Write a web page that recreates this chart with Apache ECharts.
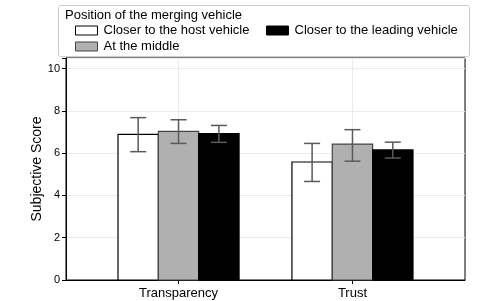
<!DOCTYPE html>
<html><head><meta charset="utf-8">
<script src="https://cdn.jsdelivr.net/npm/echarts@6/dist/echarts.min.js"></script>
<style>html,body{margin:0;padding:0;background:#fff}#c{width:498px;height:301px}</style>
</head><body><div id="c"></div>
<script>
const categories = ['Transparency', 'Trust'];
const seriesNames = ['Closer to the host vehicle', 'At the middle', 'Closer to the leading vehicle'];
const hostMean = [6.89, 5.58];
const middleMean = [7.03, 6.43];
const leadingMean = [6.93, 6.15];
const hostLow = [6.07, 4.66];
const hostHigh = [7.68, 6.46];
const middleLow = [6.46, 5.62];
const middleHigh = [7.58, 7.11];
const leadingLow = [6.51, 5.77];
const leadingHigh = [7.31, 6.52];
const yTicks = [0, 2, 4, 6, 8, 10];

const means = [hostMean, middleMean, leadingMean];
const lows = [hostLow, middleLow, leadingLow];
const highs = [hostHigh, middleHigh, leadingHigh];
const fills = ['#ffffff', '#b0b0b0', '#000000'];
const borders = ['#000000', '#444444', '#000000'];
const barW = 0.232;
const offsets = [-barW, 0, barW];

const chart = echarts.init(document.getElementById('c'));
const FONT = 'Liberation Sans';

const series = [];
for (let s = 0; s < 3; s++) {
  series.push({
    name: seriesNames[s],
    type: 'custom',
    itemStyle: { color: fills[s], borderColor: borders[s], borderWidth: 1 },
    data: means[s].map((v, i) => [i, v]),
    renderItem: (params, api) => {
      const x = api.value(0) + offsets[s];
      const p0 = api.coord([x - barW / 2, api.value(1)]);
      const p1 = api.coord([x + barW / 2, 0]);
      return {
        type: 'rect',
        shape: { x: p0[0], y: p0[1], width: p1[0] - p0[0], height: p1[1] - p0[1] },
        style: { fill: fills[s], stroke: borders[s], lineWidth: 1.2 }
      };
    },
    z: 2
  });
}
for (let s = 0; s < 3; s++) {
  series.push({
    type: 'custom',
    data: lows[s].map((v, i) => [i, v, highs[s][i]]),
    renderItem: (params, api) => {
      const x = api.value(0) + offsets[s];
      const lo = api.coord([x, api.value(1)]);
      const hi = api.coord([x, api.value(2)]);
      const cw = 8;
      const st = { stroke: '#5a5a5a', lineWidth: 1.5 };
      return {
        type: 'group',
        children: [
          { type: 'line', shape: { x1: lo[0], y1: lo[1], x2: hi[0], y2: hi[1] }, style: st },
          { type: 'line', shape: { x1: lo[0] - cw, y1: lo[1], x2: lo[0] + cw, y2: lo[1] }, style: st },
          { type: 'line', shape: { x1: hi[0] - cw, y1: hi[1], x2: hi[0] + cw, y2: hi[1] }, style: st }
        ]
      };
    },
    z: 3
  });
}

const legendCommon = {
  orient: 'vertical',
  itemWidth: 22,
  itemHeight: 9,
  itemGap: 3,
  icon: 'rect',
  itemStyle: { borderWidth: 1 },
  textStyle: { fontFamily: FONT, fontSize: 13, color: '#000', padding: [0, 0, 0, 1] },
  padding: 0
};

chart.setOption({
  animation: false,
  grid: { left: 66, right: 33, top: 58, bottom: 21, show: true, borderColor: '#000', borderWidth: 1 },
  xAxis: {
    type: 'value', min: -0.647, max: 1.647,
    axisLine: { show: true, onZero: false, lineStyle: { color: '#000' } },
    axisTick: { show: true, customValues: [0, 1], length: 4, lineStyle: { color: '#000' } },
    axisLabel: { customValues: [0, 1], formatter: v => categories[Math.round(v)], fontFamily: FONT, fontSize: 13, color: '#000', margin: 7 },
    splitLine: { show: true, lineStyle: { color: '#ebebeb' } }
  },
  yAxis: {
    type: 'value', min: 0, max: 10.5, interval: 2,
    name: 'Subjective Score', nameLocation: 'middle', nameGap: 22, nameMoveOverlap: false,
    nameTextStyle: { fontFamily: FONT, fontSize: 14, color: '#000' },
    axisLine: { show: true, onZero: false, lineStyle: { color: '#000' } },
    axisTick: { show: true, length: 4, lineStyle: { color: '#000' } },
    axisLabel: { fontFamily: FONT, fontSize: 11, color: '#000', margin: 6, customValues: yTicks },
    splitLine: { show: true, lineStyle: { color: '#ebebeb' } }
  },
  legend: [
    Object.assign({ left: 75, top: 24, data: [seriesNames[0], seriesNames[1]] }, legendCommon),
    Object.assign({ left: 266, top: 24, data: [seriesNames[2]] }, legendCommon)
  ],
  graphic: [
    { type: 'rect', left: 58, top: 5, shape: { width: 411, height: 51, r: 2 }, style: { fill: '#fff', stroke: '#cccccc', lineWidth: 1 }, z: -1 },
    { type: 'text', left: 65, top: 9, style: { text: 'Position of the merging vehicle', fontFamily: FONT, fontSize: 13, fill: '#000' } }
  ],
  series: series
});
</script></body></html>
